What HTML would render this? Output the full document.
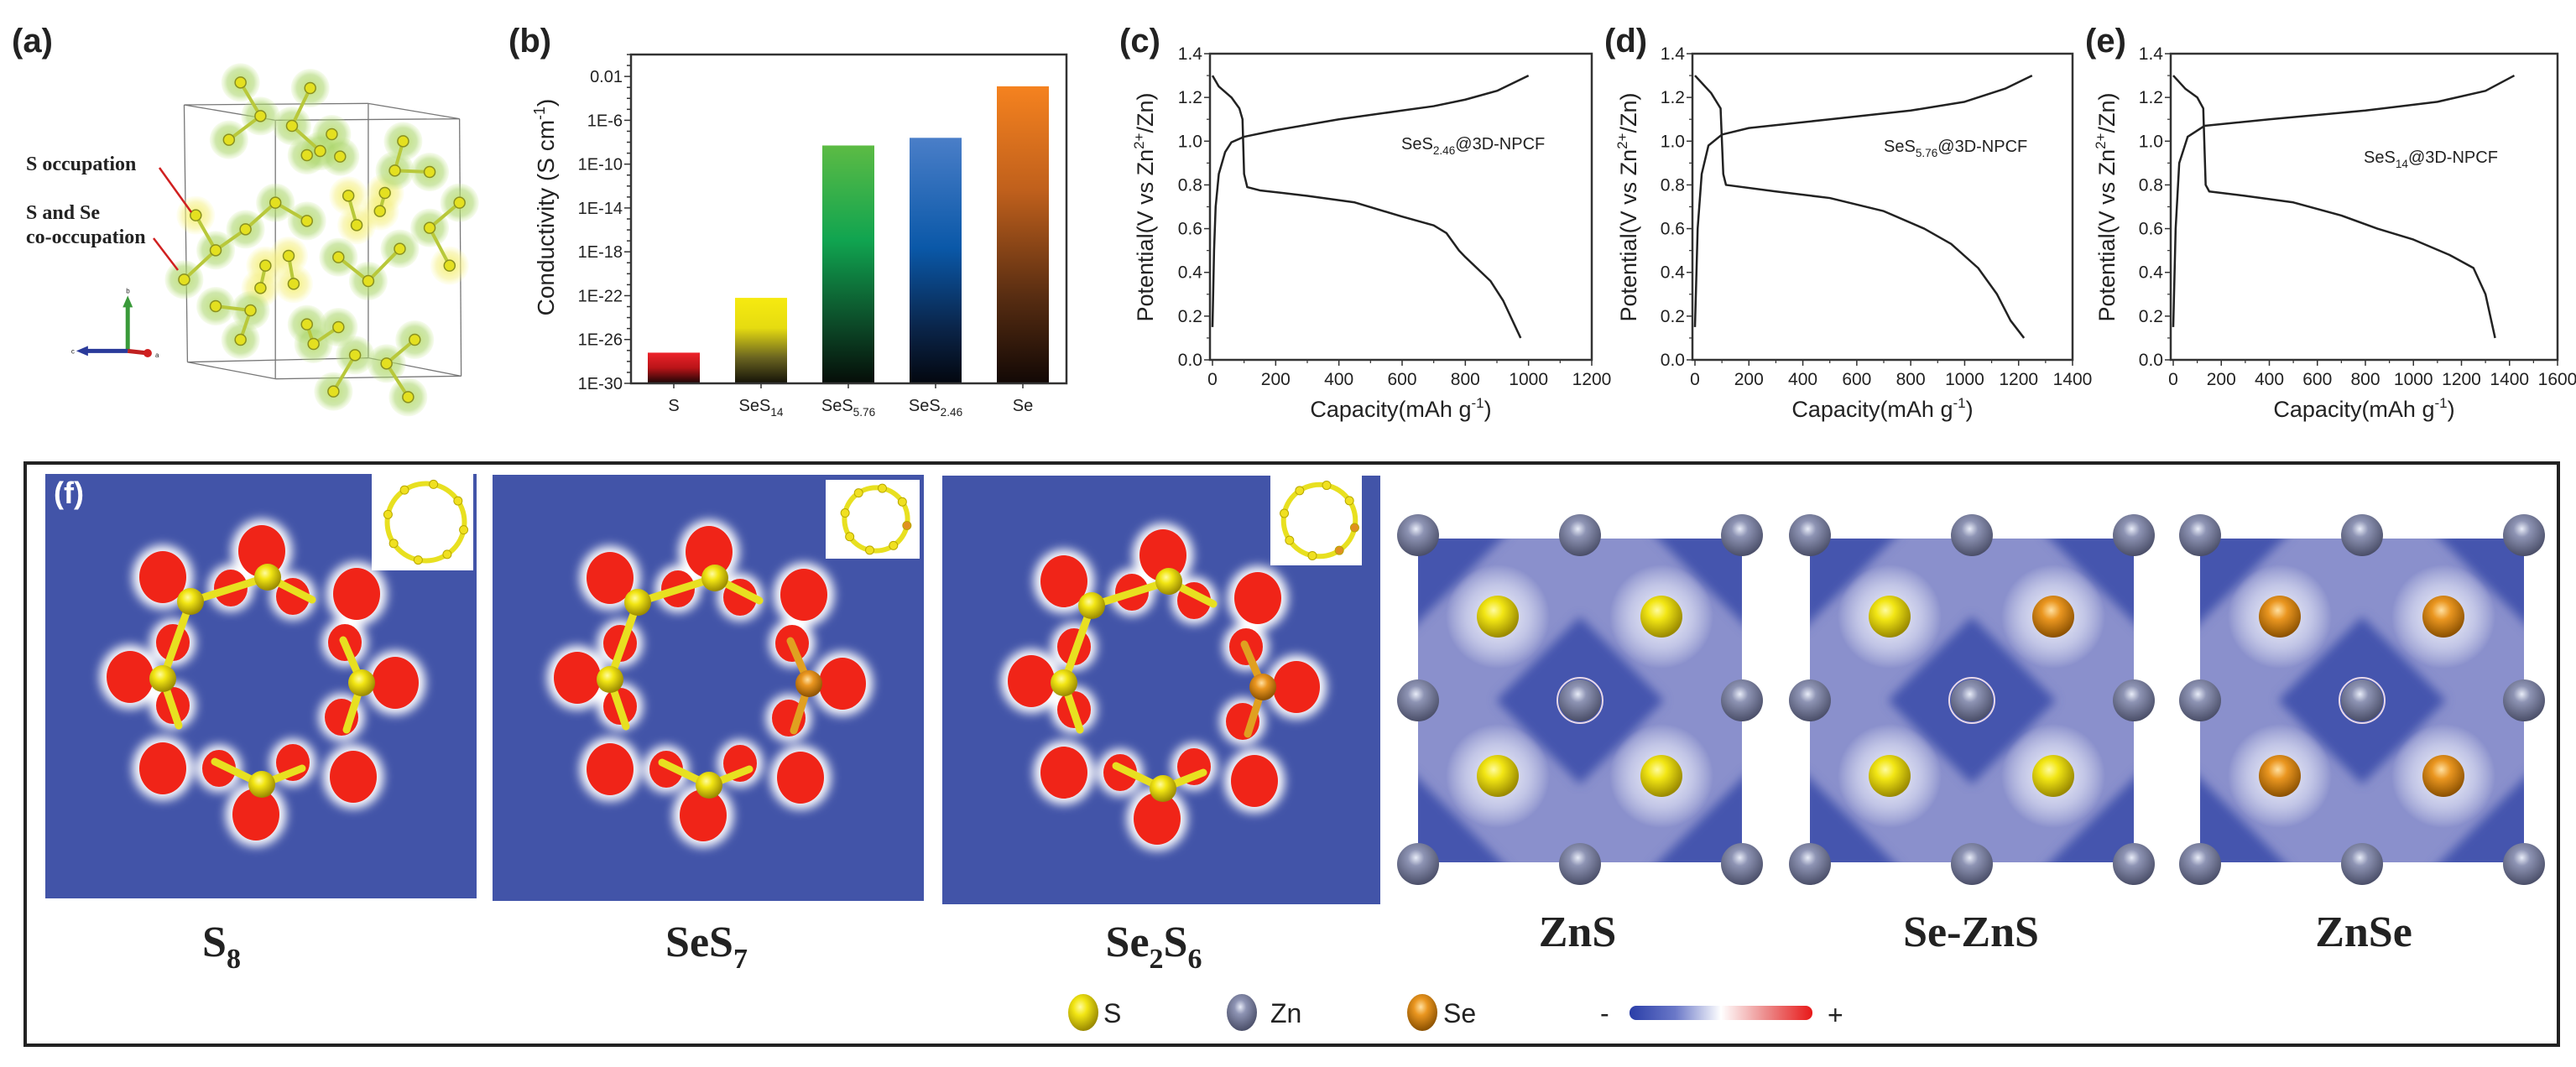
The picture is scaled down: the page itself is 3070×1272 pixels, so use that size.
<!DOCTYPE html>
<html><head><meta charset="utf-8">
<style>
html,body{margin:0;padding:0;background:#fff;width:3070px;height:1272px;overflow:hidden}
svg text{font-family:"Liberation Sans",Arial,sans-serif;fill:#222}
svg text.serif{font-family:"Liberation Serif","Times New Roman",serif;font-weight:bold}
</style></head>
<body>
<svg id="fig" width="3070" height="1272" viewBox="0 0 3070 1272" xmlns="http://www.w3.org/2000/svg">
<defs>
  <linearGradient id="gS" x1="0" y1="0" x2="0" y2="1"><stop offset="0" stop-color="#ee2229"/><stop offset="0.5" stop-color="#b81418"/><stop offset="1" stop-color="#1a0505"/></linearGradient>
  <linearGradient id="gSeS14" x1="0" y1="0" x2="0" y2="1"><stop offset="0" stop-color="#f6ea10"/><stop offset="0.35" stop-color="#e6dc10"/><stop offset="0.7" stop-color="#6a6420"/><stop offset="1" stop-color="#141208"/></linearGradient>
  <linearGradient id="gSeS576" x1="0" y1="0" x2="0" y2="1"><stop offset="0" stop-color="#5cbb44"/><stop offset="0.4" stop-color="#10a450"/><stop offset="0.75" stop-color="#0c4a28"/><stop offset="1" stop-color="#050d08"/></linearGradient>
  <linearGradient id="gSeS246" x1="0" y1="0" x2="0" y2="1"><stop offset="0" stop-color="#4a7ec8"/><stop offset="0.45" stop-color="#0a58a8"/><stop offset="0.78" stop-color="#0a2448"/><stop offset="1" stop-color="#03070f"/></linearGradient>
  <linearGradient id="gSe" x1="0" y1="0" x2="0" y2="1"><stop offset="0" stop-color="#f5821f"/><stop offset="0.35" stop-color="#c0601c"/><stop offset="0.7" stop-color="#5a2e12"/><stop offset="1" stop-color="#120805"/></linearGradient>
  <radialGradient id="sphS" cx="0.4" cy="0.35" r="0.65"><stop offset="0" stop-color="#fffba0"/><stop offset="0.35" stop-color="#f2e614"/><stop offset="1" stop-color="#9a8a00"/></radialGradient>
  <radialGradient id="sphZn" cx="0.45" cy="0.35" r="0.65"><stop offset="0" stop-color="#e8ecf8"/><stop offset="0.3" stop-color="#8e94b4"/><stop offset="1" stop-color="#4a4e68"/></radialGradient>
  <radialGradient id="sphSe" cx="0.45" cy="0.35" r="0.65"><stop offset="0" stop-color="#ffe0a0"/><stop offset="0.35" stop-color="#ea9620"/><stop offset="1" stop-color="#8a5000"/></radialGradient>
  <radialGradient id="halo" cx="0.5" cy="0.5" r="0.5"><stop offset="0" stop-color="#ffffff" stop-opacity="0.95"/><stop offset="0.6" stop-color="#e8eaf8" stop-opacity="0.6"/><stop offset="1" stop-color="#ffffff" stop-opacity="0"/></radialGradient>
  <radialGradient id="greenHalo" cx="0.5" cy="0.5" r="0.5"><stop offset="0" stop-color="#bfe070" stop-opacity="0.9"/><stop offset="0.7" stop-color="#a8d468" stop-opacity="0.55"/><stop offset="1" stop-color="#c8e890" stop-opacity="0.15"/></radialGradient>
  <radialGradient id="yellowHalo" cx="0.5" cy="0.5" r="0.5"><stop offset="0" stop-color="#f4f060" stop-opacity="0.9"/><stop offset="0.7" stop-color="#f4ee80" stop-opacity="0.5"/><stop offset="1" stop-color="#fafaa0" stop-opacity="0.1"/></radialGradient>
  <linearGradient id="cbar" x1="0" y1="0" x2="1" y2="0"><stop offset="0" stop-color="#2a3ea8"/><stop offset="0.25" stop-color="#6a78c8"/><stop offset="0.5" stop-color="#ffffff"/><stop offset="0.75" stop-color="#ec8a8a"/><stop offset="1" stop-color="#e81818"/></linearGradient>
  <filter id="blur6" x="-50%" y="-50%" width="200%" height="200%"><feGaussianBlur stdDeviation="6"/></filter>
  <filter id="blur18" x="-50%" y="-50%" width="200%" height="200%"><feGaussianBlur stdDeviation="18"/></filter>
  <filter id="blur2" x="-50%" y="-50%" width="200%" height="200%"><feGaussianBlur stdDeviation="1.5"/></filter>
</defs>

<!-- Panel labels -->
<text x="14" y="62" font-size="40" font-weight="bold">(a)</text>
<text x="606" y="62" font-size="40" font-weight="bold">(b)</text>
<text x="1334" y="62" font-size="40" font-weight="bold">(c)</text>
<text x="1912" y="62" font-size="40" font-weight="bold">(d)</text>
<text x="2485" y="62" font-size="40" font-weight="bold">(e)</text>

<g id="panelA"></g>
<text class="serif" x="31" y="203" font-size="24">S occupation</text>
<text class="serif" x="31" y="261" font-size="24">S and Se</text>
<text class="serif" x="31" y="290" font-size="24">co-occupation</text>
<line x1="190" y1="200" x2="228" y2="253" stroke="#d02020" stroke-width="2.5"/>
<line x1="183" y1="284" x2="212" y2="322" stroke="#d02020" stroke-width="2.5"/>

<g id="panelB"></g>
<g id="panelC"></g>
<g id="panelD"></g>
<g id="panelE"></g>

<!-- Panel f frame -->
<rect x="30" y="552" width="3019" height="694" fill="none" stroke="#222" stroke-width="4"/>
<g id="panelF"></g>

<text class="serif" x="264" y="1140" font-size="52" text-anchor="middle">S<tspan font-size="34" dy="14">8</tspan></text>
<text class="serif" x="842" y="1140" font-size="52" text-anchor="middle">SeS<tspan font-size="34" dy="14">7</tspan></text>
<text class="serif" x="1375" y="1140" font-size="52" text-anchor="middle">Se<tspan font-size="34" dy="14">2</tspan><tspan font-size="52" dy="-14">S</tspan><tspan font-size="34" dy="14">6</tspan></text>
<text class="serif" x="1880" y="1128" font-size="52" text-anchor="middle">ZnS</text>
<text class="serif" x="2349" y="1128" font-size="52" text-anchor="middle">Se-ZnS</text>
<text class="serif" x="2817" y="1128" font-size="52" text-anchor="middle">ZnSe</text>

<!-- legend -->
<g>
  <ellipse cx="1291" cy="1207" rx="18" ry="22" fill="url(#sphS)"/>
  <text x="1315" y="1219" font-size="32">S</text>
  <ellipse cx="1480" cy="1207" rx="18" ry="22" fill="url(#sphZn)"/>
  <text x="1514" y="1219" font-size="32">Zn</text>
  <ellipse cx="1695" cy="1207" rx="18" ry="22" fill="url(#sphSe)"/>
  <text x="1720" y="1219" font-size="32">Se</text>
  <text x="1907" y="1219" font-size="32">-</text>
  <rect x="1942" y="1199" width="218" height="17" rx="8" fill="url(#cbar)"/>
  <text x="2178" y="1221" font-size="32">+</text>
</g>
</svg>

<script>
// ---------------- Chart data ----------------
const barCategories = ["S", "SeS14", "SeS5.76", "SeS2.46", "Se"];
const barLogConductivity = [-27.2, -22.2, -8.3, -7.6, -2.9];
const barFills = ["url(#gS)", "url(#gSeS14)", "url(#gSeS576)", "url(#gSeS246)", "url(#gSe)"];
const bTickValues = [-2, -6, -10, -14, -18, -22, -26, -30];
const bTickLabels = ["0.01", "1E-6", "1E-10", "1E-14", "1E-18", "1E-22", "1E-26", "1E-30"];

const vTickValues = [0, 0.2, 0.4, 0.6, 0.8, 1.0, 1.2, 1.4];
const vTickLabels = ["0.0", "0.2", "0.4", "0.6", "0.8", "1.0", "1.2", "1.4"];

const cChargeCap = [0, 5, 10, 20, 40, 60, 100, 200, 400, 600, 700, 800, 900, 1000];
const cChargeV   = [0.15, 0.5, 0.7, 0.85, 0.95, 0.995, 1.02, 1.05, 1.1, 1.14, 1.16, 1.19, 1.23, 1.3];
const cDisCap = [0, 20, 60, 85, 95, 100, 110, 150, 300, 450, 600, 700, 740, 780, 800, 880, 920, 975];
const cDisV   = [1.3, 1.25, 1.2, 1.15, 1.1, 0.85, 0.79, 0.775, 0.75, 0.72, 0.655, 0.615, 0.58, 0.5, 0.47, 0.36, 0.27, 0.1];
const cXTicks = [0, 200, 400, 600, 800, 1000, 1200];

const dChargeCap = [0, 10, 25, 50, 100, 200, 500, 800, 1000, 1150, 1250];
const dChargeV   = [0.15, 0.6, 0.85, 0.98, 1.03, 1.06, 1.1, 1.14, 1.18, 1.24, 1.3];
const dDisCap = [0, 60, 95, 105, 115, 300, 500, 700, 850, 950, 1050, 1120, 1170, 1220];
const dDisV   = [1.3, 1.22, 1.15, 0.85, 0.8, 0.77, 0.74, 0.68, 0.6, 0.53, 0.42, 0.3, 0.18, 0.1];
const dXTicks = [0, 200, 400, 600, 800, 1000, 1200, 1400];

const eChargeCap = [0, 10, 25, 60, 130, 400, 800, 1100, 1300, 1420];
const eChargeV   = [0.15, 0.6, 0.9, 1.02, 1.07, 1.1, 1.14, 1.18, 1.23, 1.3];
const eDisCap = [0, 50, 100, 125, 135, 150, 300, 500, 700, 850, 1000, 1150, 1250, 1300, 1340];
const eDisV   = [1.3, 1.24, 1.2, 1.15, 0.8, 0.77, 0.75, 0.72, 0.66, 0.6, 0.55, 0.48, 0.42, 0.3, 0.1];
const eXTicks = [0, 200, 400, 600, 800, 1000, 1200, 1400, 1600];

const NS = "http://www.w3.org/2000/svg";
function mk(parent, tag, attrs) {
  const el = document.createElementNS(NS, tag);
  for (const k in attrs) el.setAttribute(k, attrs[k]);
  parent.appendChild(el);
  return el;
}
function subText(parent, x, y, size, anchor, base, sub, rest) {
  const t = mk(parent, "text", {x: x, y: y, "font-size": size, "text-anchor": anchor});
  t.appendChild(document.createTextNode(base));
  if (sub) {
    const s = mk(t, "tspan", {"font-size": size * 0.68, dy: size * 0.3});
    s.textContent = sub;
  }
  if (rest) {
    const r = mk(t, "tspan", {dy: -size * 0.3});
    r.textContent = rest;
  }
  return t;
}

// ---------------- Panel B ----------------
(function () {
  const g = document.getElementById("panelB");
  const L = 752, R = 1271, T = 65, B = 457;
  const yOf = v => B - (v + 30) / 30 * (B - T);
  const xOf = i => 803 + i * 104;
  const bw = 62;
  barCategories.forEach((c, i) => {
    const top = yOf(barLogConductivity[i]);
    const r = mk(g, "rect", {x: xOf(i) - bw / 2, y: top, width: bw, height: B - top, fill: barFills[i]});
    
    
  });
  const frame = mk(g, "rect", {x: L, y: T, width: R - L, height: B - T, fill: "none", stroke: "#333", "stroke-width": 2.5});
  
  
  for (let d = -30; d <= 0; d++) {
    const y = yOf(d);
    const major = (d % 4 === 2 || d % 4 === -2);
    mk(g, "line", {x1: L - (major ? 8 : 5), x2: L, y1: y, y2: y, stroke: "#333", "stroke-width": 1.5});
  }
  bTickValues.forEach((v, i) => {
    const t = mk(g, "text", {x: L - 10, y: yOf(v) + 7, "font-size": 20, "text-anchor": "end"});
    t.textContent = bTickLabels[i];
    
    
  });
  barCategories.forEach((c, i) => {
    mk(g, "line", {x1: xOf(i), x2: xOf(i), y1: B, y2: B + 6, stroke: "#333", "stroke-width": 1.5});
    let t;
    if (c.length > 2) t = subText(g, xOf(i), 490, 20, "middle", "SeS", c.slice(3), null);
    else { t = mk(g, "text", {x: xOf(i), y: 490, "font-size": 20, "text-anchor": "middle"}); t.textContent = c; }
    
    
  });
  const yt = mk(g, "text", {x: 0, y: 0, "font-size": 28, "text-anchor": "middle", transform: "translate(660,247) rotate(-90)"});
  yt.appendChild(document.createTextNode("Conductivity (S cm"));
  const sp = mk(yt, "tspan", {"font-size": 18, dy: -11}); sp.textContent = "-1";
  const sp2 = mk(yt, "tspan", {dy: 11}); sp2.textContent = ")";
  
  
})();

// ---------------- Panels C/D/E ----------------
function voltageChart(id, L, R, xmax, x0px, xTicks, chCap, chV, disCap, disV, ann, annX, annY, titleX) {
  const g = document.getElementById(id);
  const T = 64, B = 429;
  const xOf = v => x0px + v / xmax * (R - x0px);
  const yOf = v => B - v / 1.4 * (B - T);
  const frame = mk(g, "rect", {x: L, y: T, width: R - L, height: B - T, fill: "none", stroke: "#333", "stroke-width": 2.5});
  
  
  vTickValues.forEach((v, i) => {
    mk(g, "line", {x1: L - 7, x2: L, y1: yOf(v), y2: yOf(v), stroke: "#333", "stroke-width": 1.5});
    if (i < 7) mk(g, "line", {x1: L - 4, x2: L, y1: yOf(v + 0.1), y2: yOf(v + 0.1), stroke: "#333", "stroke-width": 1.2});
    const t = mk(g, "text", {x: L - 9, y: yOf(v) + 7, "font-size": 21, "text-anchor": "end"});
    t.textContent = vTickLabels[i];
    
    
  });
  xTicks.forEach((v, i) => {
    mk(g, "line", {x1: xOf(v), x2: xOf(v), y1: B, y2: B + 7, stroke: "#333", "stroke-width": 1.5});
    if (i < xTicks.length - 1) { const m = xOf(v + (xTicks[1] - xTicks[0]) / 2); mk(g, "line", {x1: m, x2: m, y1: B, y2: B + 4, stroke: "#333", "stroke-width": 1.2}); }
    const t = mk(g, "text", {x: xOf(v), y: B + 30, "font-size": 21, "text-anchor": "middle"});
    t.textContent = String(v);
    
    
  });
  const ch = mk(g, "polyline", {points: chCap.map((c, i) => xOf(c) + "," + yOf(chV[i])).join(" "), fill: "none", stroke: "#222", "stroke-width": 2.5, "stroke-linejoin": "round"});
  
  
  const ds = mk(g, "polyline", {points: disCap.map((c, i) => xOf(c) + "," + yOf(disV[i])).join(" "), fill: "none", stroke: "#222", "stroke-width": 2.5, "stroke-linejoin": "round"});
  
  
  const a = subText(g, annX, annY, 20, "start", "SeS", ann, "@3D-NPCF");
  
  
  const xt = mk(g, "text", {x: (L + R) / 2, y: 497, "font-size": 27, "text-anchor": "middle"});
  xt.appendChild(document.createTextNode("Capacity(mAh g"));
  const s1 = mk(xt, "tspan", {"font-size": 17, dy: -11}); s1.textContent = "-1";
  const s2 = mk(xt, "tspan", {dy: 11}); s2.textContent = ")";
  
  
  const yt = mk(g, "text", {x: 0, y: 0, "font-size": 27, "text-anchor": "middle", transform: "translate(" + titleX + ",247) rotate(-90)"});
  yt.appendChild(document.createTextNode("Potential(V vs Zn"));
  const s3 = mk(yt, "tspan", {"font-size": 17, dy: -11}); s3.textContent = "2+";
  const s4 = mk(yt, "tspan", {dy: 11}); s4.textContent = "/Zn)";
  
  
}
voltageChart("panelC", 1442, 1897, 1200, 1445, cXTicks, cChargeCap, cChargeV, cDisCap, cDisV, "2.46", 1670, 178, 1374);
voltageChart("panelD", 2017, 2470, 1400, 2020, dXTicks, dChargeCap, dChargeV, dDisCap, dDisV, "5.76", 2245, 181, 1950);
voltageChart("panelE", 2587, 3048, 1600, 2590, eXTicks, eChargeCap, eChargeV, eDisCap, eDisV, "14", 2817, 194, 2520);

// ---------------- Panel A: crystal ----------------
(function () {
  const g = document.getElementById("panelA");
  const P = (zx, zy) => [zx / 2.529, 60 + zy / 3.0];
  const boxLines = [[555,195,1110,190],[1110,190,1385,245],[1385,245,830,250],[830,250,555,195],
    [555,195,565,1115],[830,250,830,1175],[1110,190,1110,1100],[1385,245,1390,1165],
    [565,1115,830,1175],[830,1175,1390,1165],[1390,1165,1110,1100],[1110,1100,565,1115]];
  boxLines.forEach(l => { const a = P(l[0], l[1]), b = P(l[2], l[3]); mk(g, "line", {x1: a[0], y1: a[1], x2: b[0], y2: b[1], stroke: "#777", "stroke-width": 1.3}); });
  const atoms = [[725,115],[935,135],[785,235],[880,270],[690,320],[1000,300],[965,360],[925,375],[1025,380],[1215,325],[1190,430],[1295,435],[1385,545],[830,545],[925,610],[740,640],[650,715],[555,820],[1020,740],[1205,710],[1295,635],[1110,825],[650,915],[755,930],[725,1035],[925,980],[1020,990],[945,1050],[1070,1090],[1165,1120],[1250,1035],[1005,1220],[1230,1240]];
  const yAtoms = [[590,590],[1050,520],[1160,510],[1145,575],[1075,625],[800,770],[870,735],[785,850],[885,835],[1355,770]];
  const bonds = [[725,115,785,235],[935,135,880,270],[785,235,690,320],[880,270,965,360],[1215,325,1190,430],[1190,430,1295,435],[1385,545,1295,635],[1295,635,1355,770],[830,545,740,640],[740,640,650,715],[650,715,555,820],[830,545,925,610],[1020,740,1110,825],[1205,710,1110,825],[590,590,650,715],[1050,520,1075,625],[1160,510,1145,575],[800,770,785,850],[870,735,885,835],[650,915,755,930],[755,930,725,1035],[925,980,945,1050],[1020,990,945,1050],[1070,1090,1005,1220],[1165,1120,1250,1035],[1165,1120,1230,1240]];
  yAtoms.forEach(p => { const c = P(p[0], p[1]); mk(g, "circle", {cx: c[0], cy: c[1], r: 23, fill: "url(#yellowHalo)"}); });
  atoms.forEach(p => { const c = P(p[0], p[1]); mk(g, "circle", {cx: c[0], cy: c[1], r: 23, fill: "url(#greenHalo)"}); });
  bonds.forEach(b => { const a = P(b[0], b[1]), c = P(b[2], b[3]); mk(g, "line", {x1: a[0], y1: a[1], x2: c[0], y2: c[1], stroke: "#b8c83a", "stroke-width": 4}); });
  atoms.concat(yAtoms).forEach(p => { const c = P(p[0], p[1]); mk(g, "circle", {cx: c[0], cy: c[1], r: 6.5, fill: "#e4e020", stroke: "#8a9020", "stroke-width": 1.5}); });
  const o = P(385, 1075), up = P(385, 895), lf = P(245, 1075), rt = P(445, 1083);
  mk(g, "line", {x1: o[0], y1: o[1], x2: up[0], y2: up[1] + 6, stroke: "#3a9a3a", "stroke-width": 5});
  mk(g, "polygon", {points: `${up[0]-6},${up[1]+8} ${up[0]+6},${up[1]+8} ${up[0]},${up[1]-6}`, fill: "#3a9a3a"});
  mk(g, "line", {x1: o[0], y1: o[1], x2: lf[0] + 6, y2: lf[1], stroke: "#2a3a9a", "stroke-width": 5});
  mk(g, "polygon", {points: `${lf[0]+8},${lf[1]-6} ${lf[0]+8},${lf[1]+6} ${lf[0]-6},${lf[1]}`, fill: "#2a3a9a"});
  mk(g, "line", {x1: o[0], y1: o[1], x2: rt[0], y2: rt[1], stroke: "#c02020", "stroke-width": 5});
  mk(g, "circle", {cx: rt[0], cy: rt[1], r: 5, fill: "#d02020"});
  const lb = [["b", up[0] - 2, up[1] - 9], ["c", lf[0] - 12, lf[1] + 3], ["a", rt[0] + 9, rt[1] + 5]];
  lb.forEach(l => { const t = mk(g, "text", {x: l[1], y: l[2], "font-size": 8}); t.textContent = l[0]; });
})();

// ---------------- Panel F ----------------
(function () {
  const g = document.getElementById("panelF");
  const outerOff = [[0,-150],[-118,-119],[-157,0],[-118,109],[-7,164],[109,119],[159,7],[113,-99]];
  const innerOff = [[-37,-106],[37,-96],[-106,-41],[99,-41],[-106,34],[95,48],[-51,109],[37,102]];
  const atomOff = [[-85,-90],[7,-119],[-118,2],[119,7],[0,128]];
  const bondOff = [[-85,-90,7,-119],[7,-119,60,-92],[-85,-90,-118,2],[-118,2,-99,58],[119,7,97,-44],[119,7,101,63],[0,128,-56,101],[0,128,48,109]];
  function ringMap(x0, y0, w, h, cx, cy, inset, seCount, name) {
    const m = mk(g, "g", {});
    
    
    mk(m, "rect", {x: x0, y: y0, width: w, height: h, fill: "#4254a8"});
    const halo = mk(m, "g", {filter: "url(#blur6)"});
    outerOff.forEach(o => mk(halo, "ellipse", {cx: cx + o[0], cy: cy + o[1], rx: 36, ry: 38, fill: "#ffffff"}));
    innerOff.forEach(o => mk(halo, "ellipse", {cx: cx + o[0], cy: cy + o[1], rx: 27, ry: 28, fill: "#ffffff"}));
    outerOff.forEach(o => mk(m, "ellipse", {cx: cx + o[0], cy: cy + o[1], rx: 28, ry: 31, fill: "#f02418"}));
    innerOff.forEach(o => mk(m, "ellipse", {cx: cx + o[0], cy: cy + o[1], rx: 20, ry: 22, fill: "#f02418"}));
    bondOff.forEach((b, i) => {
      const se = seCount > 0 && (i === 4 || i === 5);
      mk(m, "line", {x1: cx + b[0], y1: cy + b[1], x2: cx + b[2], y2: cy + b[3], stroke: se ? "#e0a020" : "#e8e020", "stroke-width": 9, "stroke-linecap": "round"});
    });
    atomOff.forEach((a, i) => {
      const se = seCount > 0 && i === 3;
      mk(m, "circle", {cx: cx + a[0], cy: cy + a[1], r: 16, fill: se ? "url(#sphSe)" : "url(#sphS)"});
    });
    // inset
    mk(m, "rect", {x: inset[0], y: inset[1], width: inset[2], height: inset[3], fill: "#ffffff"});
    const icx = inset[0] + inset[2] / 2 + 4, icy = inset[1] + inset[3] / 2, ir = Math.min(inset[2], inset[3]) * 0.4;
    mk(m, "circle", {cx: icx, cy: icy, r: ir, fill: "none", stroke: "#e8e020", "stroke-width": 6});
    for (let k = 0; k < 8; k++) {
      const an = -Math.PI / 2 + k * Math.PI / 4 + 0.2;
      const se = (seCount >= 1 && k === 2) || (seCount >= 2 && k === 3);
      mk(m, "circle", {cx: icx + ir * Math.cos(an), cy: icy + ir * Math.sin(an), r: 5, fill: se ? "#e09020" : "#f0e020", stroke: "#b8a800", "stroke-width": 1});
    }
  }
  ringMap(54, 565, 514, 506, 312, 807, [443, 565, 121, 115], 0, "map-s8");
  ringMap(587, 566, 514, 508, 845, 808, [984, 572, 112, 94], 1, "map-ses7");
  ringMap(1123, 567, 522, 511, 1386, 812, [1514, 567, 109, 107], 2, "map-se2s6");
  const fl = mk(g, "text", {x: 64, y: 600, "font-size": 36, "font-weight": "bold", fill: "#ffffff", style: "fill:#fff"});
  fl.textContent = "(f)";
  
  

  function znMap(x0, innerTypes, name) {
    const m = mk(g, "g", {});
    
    
    const y0 = 642, s = 386, cx = x0 + s / 2, cy = y0 + s / 2;
    const clipId = "clip" + name;
    const cp = mk(m, "clipPath", {id: clipId});
    mk(cp, "rect", {x: x0, y: y0, width: s, height: s, rx: 14});
    const inner = mk(m, "g", {"clip-path": "url(#" + clipId + ")"});
    mk(inner, "rect", {x: x0, y: y0, width: s, height: s, fill: "#8a90cc"});
    const dark = mk(inner, "g", {filter: "url(#blur6)", fill: "#4454ae"});
    const r = 100;
    mk(dark, "polygon", {points: `${cx},${cy-r} ${cx+r},${cy} ${cx},${cy+r} ${cx-r},${cy}`});
    [[x0, y0, 1, 1], [x0 + s, y0, -1, 1], [x0, y0 + s, 1, -1], [x0 + s, y0 + s, -1, -1]].forEach(c => {
      mk(dark, "polygon", {points: `${c[0]-10*c[2]},${c[1]-10*c[3]} ${c[0]+110*c[2]},${c[1]-10*c[3]} ${c[0]-10*c[2]},${c[1]+110*c[3]}`});
    });
    const sPos = [[x0 + 95, y0 + 93], [x0 + 290, y0 + 93], [x0 + 95, y0 + 283], [x0 + 290, y0 + 283]];
    sPos.forEach(p => mk(inner, "circle", {cx: p[0], cy: p[1], r: 62, fill: "url(#halo)"}));
    sPos.forEach((p, i) => mk(m, "circle", {cx: p[0], cy: p[1], r: 25, fill: innerTypes[i] === "Se" ? "url(#sphSe)" : "url(#sphS)"}));
    [x0, cx, x0 + s].forEach(zx => [y0 - 4, cy, y0 + s + 2].forEach(zy => {
      if (zx === x0 + 0 && zy === cy && false) return;
      mk(m, "circle", {cx: zx, cy: zy, r: 25, fill: "url(#sphZn)"});
    }));
    const hl = mk(m, "circle", {cx: cx, cy: cy, r: 27, fill: "none", stroke: "#e8d8e8", "stroke-width": 2});
    
    
  }
  znMap(1690, ["S", "S", "S", "S"], "map-zns");
  znMap(2157, ["S", "Se", "S", "S"], "map-se-zns");
  znMap(2622, ["Se", "Se", "Se", "Se"], "map-znse");
})();
</script>
</body></html>
